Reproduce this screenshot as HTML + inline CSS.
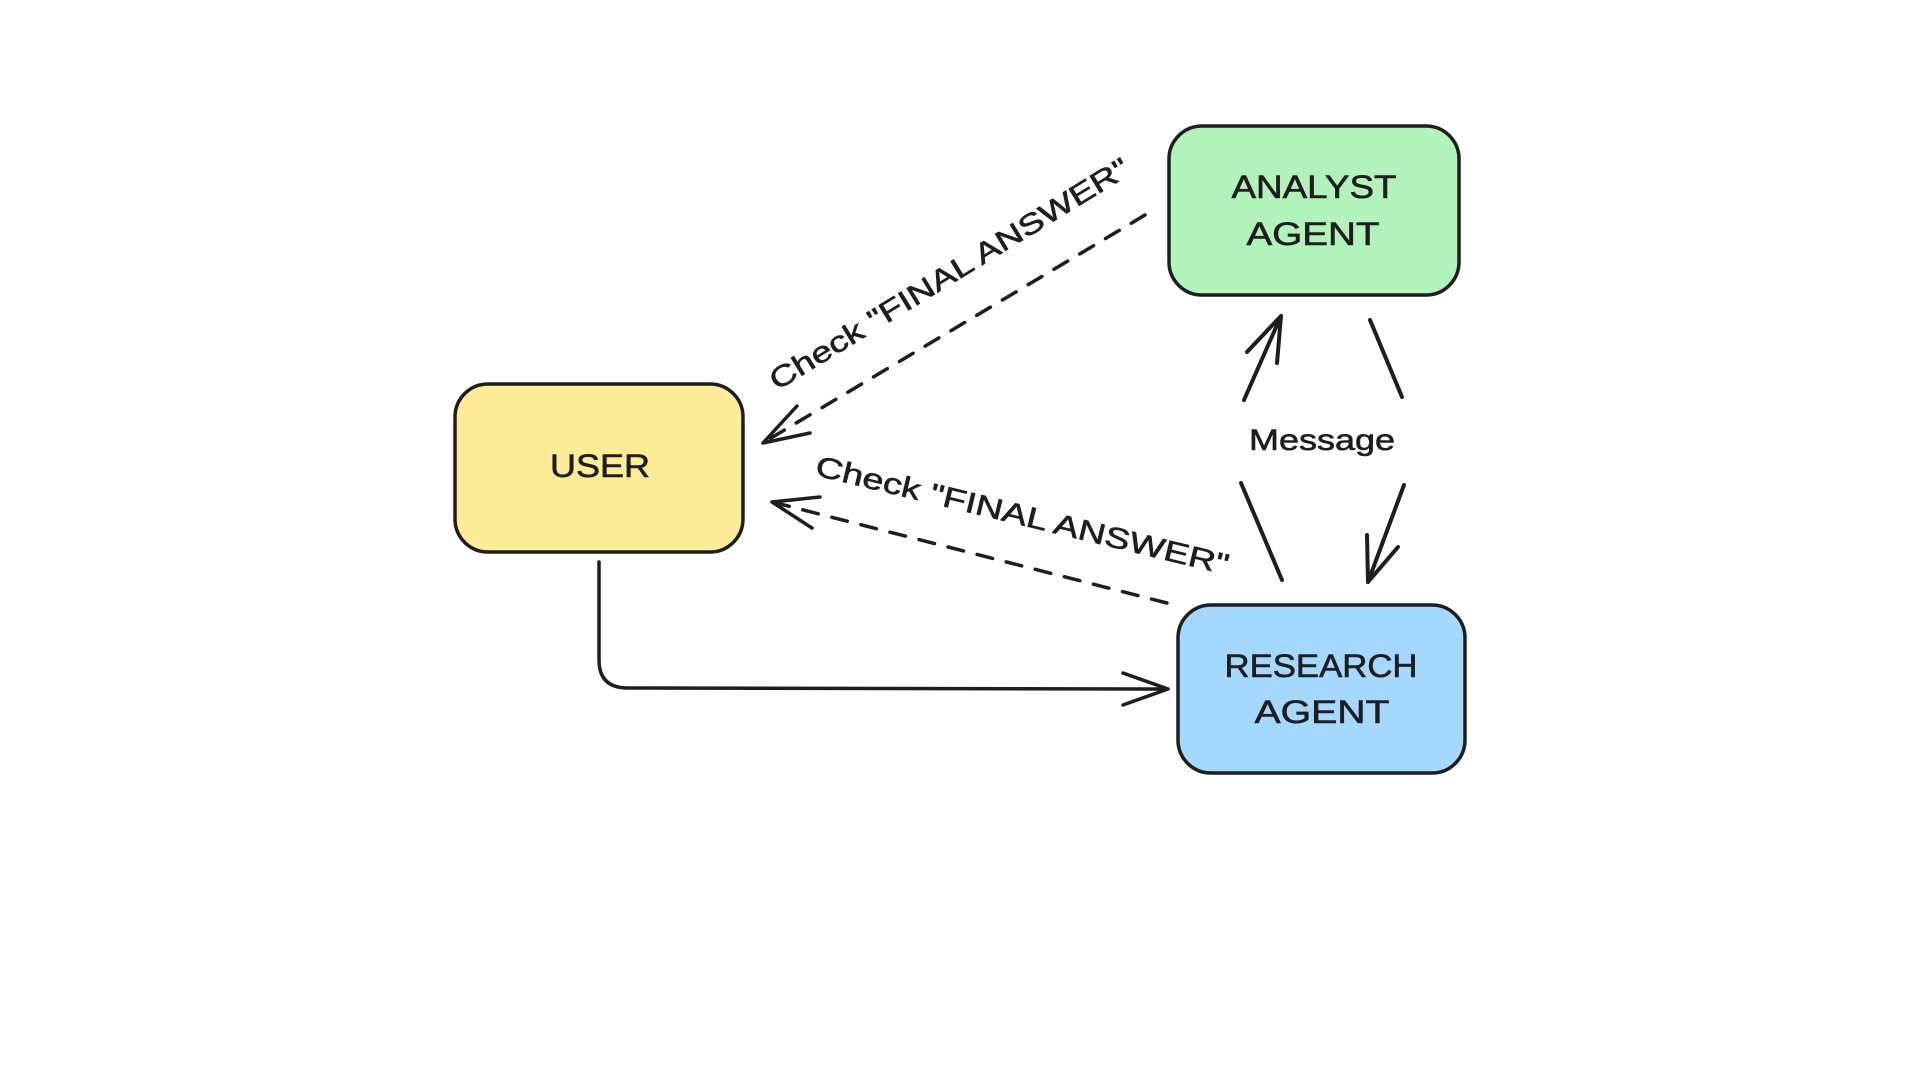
<!DOCTYPE html>
<html>
<head>
<meta charset="utf-8">
<style>
  html,body{margin:0;padding:0;background:#ffffff;}
  body{width:1920px;height:1080px;overflow:hidden;}
  svg{display:block;}
  text{font-family:"Liberation Sans", sans-serif;fill:#1e1e1e;stroke:#1e1e1e;stroke-width:0.6;}
</style>
</head>
<body>
<svg width="1920" height="1080" viewBox="0 0 1920 1080" xmlns="http://www.w3.org/2000/svg">
  <rect x="0" y="0" width="1920" height="1080" fill="#ffffff"/>

  <!-- USER box -->
  <rect x="455" y="384" width="288" height="168" rx="33" ry="33" fill="#ffec99" stroke="#1e1e1e" stroke-width="3.5"/>
  <text x="600" y="477" font-size="32" text-anchor="middle" textLength="100" lengthAdjust="spacingAndGlyphs">USER</text>

  <!-- ANALYST box -->
  <rect x="1169" y="126" width="290" height="169" rx="33" ry="33" fill="#b2f2bb" stroke="#1e1e1e" stroke-width="3.5"/>
  <text x="1314" y="198" font-size="32" text-anchor="middle" textLength="165" lengthAdjust="spacingAndGlyphs">ANALYST</text>
  <text x="1313" y="245" font-size="32" text-anchor="middle" textLength="133" lengthAdjust="spacingAndGlyphs">AGENT</text>

  <!-- RESEARCH box -->
  <rect x="1178" y="605" width="287" height="168" rx="33" ry="33" fill="#a5d8ff" stroke="#1e1e1e" stroke-width="3.5"/>
  <text x="1321" y="677" font-size="32" text-anchor="middle" textLength="193" lengthAdjust="spacingAndGlyphs">RESEARCH</text>
  <text x="1322" y="723" font-size="32" text-anchor="middle" textLength="135" lengthAdjust="spacingAndGlyphs">AGENT</text>

  <g fill="none" stroke="#1e1e1e" stroke-linecap="round" stroke-linejoin="round">
    <!-- upper dashed arrow ANALYST -> USER -->
    <path d="M1145,215 L766,441" stroke-width="3.5" stroke-dasharray="16 14"/>
    <path d="M797,406 L763,443 L810,433" stroke-width="3.5"/>

    <!-- lower dashed arrow RESEARCH -> USER -->
    <path d="M1167,603 L776,503" stroke-width="3.5" stroke-dasharray="16 14"/>
    <path d="M820,497 L772,502 L812,528" stroke-width="3.5"/>

    <!-- solid USER -> RESEARCH -->
    <path d="M599,562 L599,660 Q599,688 628,688 L1168,689" stroke-width="3.5"/>
    <path d="M1123,673 L1168,689 L1123,705" stroke-width="3.5"/>

    <!-- Message up arrow (RESEARCH -> ANALYST) -->
    <path d="M1282,580 L1241,483" stroke-width="4"/>
    <path d="M1244,400 L1281,316" stroke-width="4"/>
    <path d="M1247,352 L1281,316 L1277,363" stroke-width="4"/>

    <!-- Message down arrow (ANALYST -> RESEARCH) -->
    <path d="M1370,320 L1402,397" stroke-width="4"/>
    <path d="M1404,485 L1368,582" stroke-width="4"/>
    <path d="M1367,535 L1368,582 L1398,547" stroke-width="4"/>
  </g>

  <!-- Labels -->
  <text x="1249" y="450" font-size="30" textLength="146" lengthAdjust="spacingAndGlyphs">Message</text>

  <text transform="translate(777,391) rotate(-31.5)" x="0" y="0" font-size="29" textLength="416" lengthAdjust="spacingAndGlyphs">Check "FINAL ANSWER"</text>

  <text transform="translate(814,475) rotate(13.6)" x="0" y="0" font-size="29" textLength="424" lengthAdjust="spacingAndGlyphs">Check "FINAL ANSWER"</text>
</svg>
</body>
</html>
